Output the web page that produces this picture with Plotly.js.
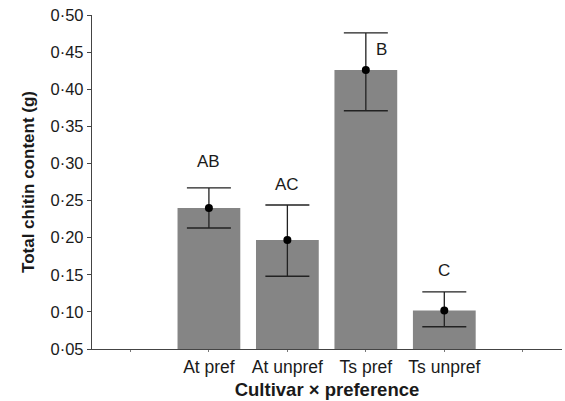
<!DOCTYPE html>
<html><head><meta charset="utf-8">
<script src="https://cdn.plot.ly/plotly-3.0.1.min.js"></script>
<style>html,body{margin:0;padding:0;background:#fff}#c{width:565px;height:401px}</style>
</head><body><div id="c"></div>
<script>
const categories = ['At pref', 'At unpref', 'Ts pref', 'Ts unpref'];
const positions = [1, 2, 3, 4];
const means = [0.240, 0.197, 0.426, 0.102];
const upper = [0.267, 0.244, 0.476, 0.127];
const lower = [0.213, 0.148, 0.371, 0.080];
const letters = ['AB', 'AC', 'B', 'C'];
const letterY = [0.302, 0.271, 0.453, 0.156];
const letterShift = [0, 0, 16, 0];
const yTickVals = [0.05, 0.10, 0.15, 0.20, 0.25, 0.30, 0.35, 0.40, 0.45, 0.50];
const yTickText = ['0·05', '0·10', '0·15', '0·20', '0·25', '0·30', '0·35', '0·40', '0·45', '0·50'];
const xTickVals = [0, 1, 2, 3, 4, 5];
const xTickText = ['', 'At pref', 'At unpref', 'Ts pref', 'Ts unpref', ''];

const font = 'Liberation Sans, Arial, sans-serif';
const ink = '#1a1a1a';

const traces = [
  {type: 'bar', x: positions, y: means, base: 0, width: 0.8,
   marker: {color: '#858585', line: {width: 0}}, hoverinfo: 'skip'},
  {type: 'scatter', mode: 'markers', x: positions, y: means,
   marker: {color: '#000', size: 8},
   error_y: {type: 'data', symmetric: false,
     array: means.map((m, i) => upper[i] - m),
     arrayminus: means.map((m, i) => m - lower[i]),
     color: '#222', thickness: 1.3, width: 22}}
];

const annotations = letters.map((t, i) => ({
  x: positions[i], y: letterY[i], text: t, showarrow: false, xshift: letterShift[i],
  font: {family: font, size: 17, color: ink}
}));

const layout = {
  width: 565, height: 401,
  margin: {l: 92, r: 3, t: 15, b: 52},
  paper_bgcolor: '#fff', plot_bgcolor: '#fff',
  showlegend: false, bargap: 0.2,
  font: {family: font, size: 14, color: ink},
  xaxis: {range: [-0.49, 5.5], tickvals: xTickVals, ticktext: xTickText,
    showgrid: false, zeroline: false, showline: true, linecolor: '#444', linewidth: 1.2,
    ticks: 'outside', ticklen: 2, tickcolor: '#777', tickfont: {size: 17.5, color: ink},
    title: {text: '<b>Cultivar × preference</b>', font: {size: 18.5, color: ink}, standoff: 6}},
  yaxis: {range: [0.05, 0.50], tickvals: yTickVals, ticktext: yTickText,
    showgrid: false, zeroline: false, showline: true, linecolor: '#444', linewidth: 1.2,
    ticks: 'outside', ticklen: 4, tickcolor: '#444', tickfont: {size: 16.5, color: ink},
    title: {text: '<b>Total chitin content (g)</b>', font: {size: 17, color: ink}, standoff: 11}},
  annotations: annotations
};

Plotly.newPlot('c', traces, layout, {staticPlot: true, displayModeBar: false});
</script></body></html>
